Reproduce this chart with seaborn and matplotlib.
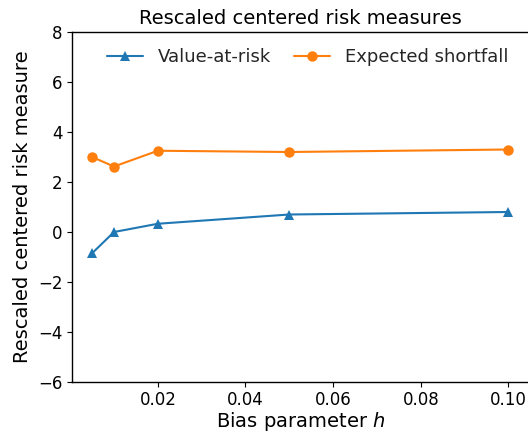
import numpy as np
import pandas as pd
import matplotlib
matplotlib.use("Agg")
import matplotlib.pyplot as plt
import seaborn as sns

# data
h = [0.005, 0.01, 0.02, 0.05, 0.10]
var_vals = [-0.85, 0.0, 0.33, 0.70, 0.80]
es_vals = [3.0, 2.62, 3.25, 3.20, 3.30]
series = ["Value-at-risk", "Expected shortfall"]

df = pd.DataFrame({
    "h": h + h,
    "value": var_vals + es_vals,
    "measure": [series[0]] * len(h) + [series[1]] * len(h),
})

sns.set_style("ticks")
plt.rcParams["font.family"] = ["DejaVu Sans"]

fig = plt.figure(figsize=(5.28, 4.32), dpi=100)
# right spine sits just past the image edge, as in the reference
ax = fig.add_axes([71.5 / 528, 50 / 432, 458 / 528, 350 / 432])

sns.lineplot(data=df, x="h", y="value", hue="measure", style="measure",
             markers={series[0]: "^", series[1]: "o"}, dashes=False,
             palette=["#1f77b4", "#ff7f0e"], markersize=7.5, markeredgewidth=0,
             linewidth=1.5, ax=ax)

ax.set_ylim(-6, 8)
ax.set_yticks(np.arange(-6, 9, 2))
ax.set_xlim(0.0003, 0.1048)
ax.set_xticks([0.02, 0.04, 0.06, 0.08, 0.10])
ax.set_xticklabels(["0.02", "0.04", "0.06", "0.08", "0.10"])
ax.tick_params(labelsize=12, colors="black", length=3.5, pad=3)
for sp in ax.spines.values():
    sp.set_color("black")
    sp.set_linewidth(1)

ax.set_xlabel("Bias parameter $h$", fontsize=14, color="black", labelpad=1)
ax.set_ylabel("Rescaled centered risk measure", fontsize=14, color="black")
ax.set_title("Rescaled centered risk measures", fontsize=14, color="black")

leg = ax.legend(loc="upper right", bbox_to_anchor=(0.989, 1.0), ncol=2,
                frameon=False, fontsize=13, columnspacing=1.3, title=None)

fig.savefig("out.png", dpi=100)
